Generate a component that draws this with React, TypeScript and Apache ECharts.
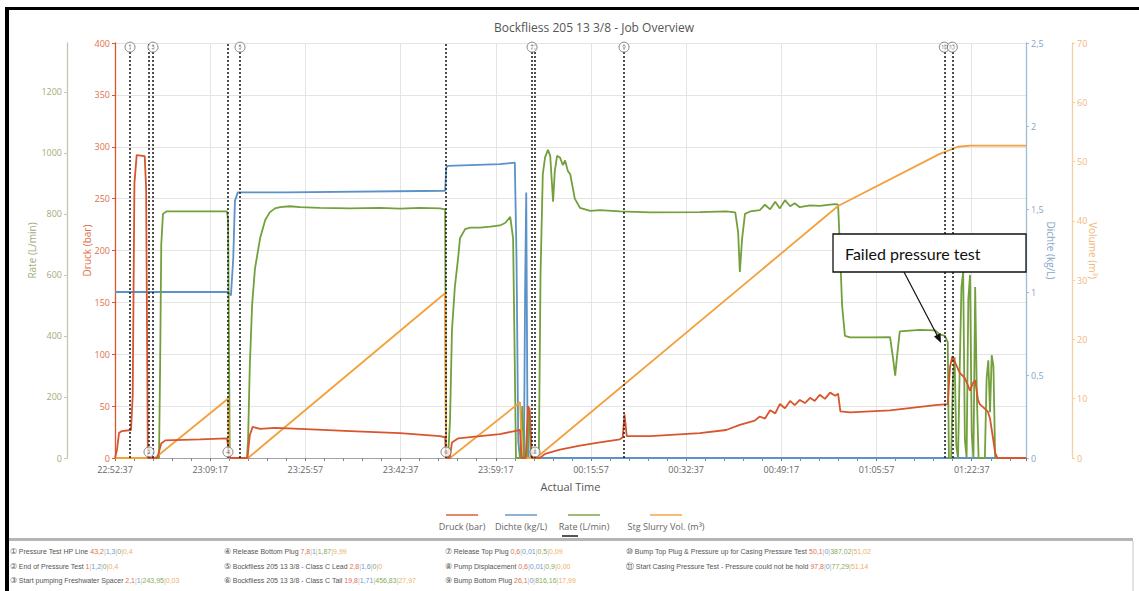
import React, { useEffect, useRef } from "react";
import * as echarts from "echarts";

type Pt = [number, number];

// x values: elapsed minutes since START_CLOCK
const START_CLOCK = "22:52:37";
const X_END_MIN = 159.5;
const X_STEP_SEC = 1000;

const druck: Pt[] = [
  [0, 0], [0.35, 8], [0.7, 24], [1.2, 26], [2.8, 27], [3.1, 60], [3.4, 265], [3.8, 292], [5.2, 291], [5.45, 260], [5.75, 0],
  [7.4, 0], [8.1, 14], [8.8, 17], [14.9, 18], [19.6, 19], [19.9, 8], [20.2, 0],
  [23.2, 0], [23.6, 22], [24.1, 30], [25.4, 28], [28.0, 29], [32.4, 28], [41.2, 26], [49.9, 24], [56.9, 21], [57.8, 20], [57.95, 0],
  [58.6, 0], [59.0, 15], [60.1, 19], [63.9, 21], [67.4, 23], [70.0, 26], [70.9, 27], [71.2, 0], [71.9, 0], [72.3, 50], [72.6, 47], [73.0, 0],
  [74.4, 0], [75.3, 4], [77.9, 8], [81.4, 12], [84.9, 15], [88.4, 18], [88.9, 20], [89.2, 42], [89.6, 21], [93.7, 21], [102.4, 24],
  [107.0, 27], [109.4, 32], [112.0, 36], [112.9, 40], [113.8, 38], [114.7, 46], [115.6, 43], [116.4, 52], [117.3, 48], [118.2, 55],
  [119.0, 51], [119.9, 56], [120.8, 53], [121.7, 58], [122.5, 55], [123.4, 61], [124.3, 57], [125.2, 63], [126.1, 60], [126.6, 62],
  [127.0, 45], [128.7, 44], [135.7, 46], [143.6, 51], [145.8, 52], [146.2, 88], [146.6, 98], [147.1, 92], [147.9, 82], [148.8, 77],
  [149.7, 65], [150.2, 72], [150.6, 75], [151.1, 56], [151.4, 52], [152.8, 45], [153.2, 38], [153.7, 20], [154.1, 5], [154.5, 0], [159.5, 0],
];

const dichte: Pt[] = [
  [0, 1.0], [19.8, 1.0], [20.3, 0.98], [20.7, 1.2], [21.0, 1.55], [21.5, 1.6], [30.0, 1.6], [57.8, 1.61],
  [58.0, 1.75], [58.3, 1.76], [67.4, 1.77], [70.0, 1.78], [70.3, 1.2], [70.6, 0.1], [70.9, 0], [71.6, 0],
  [71.8, 1.0], [72.0, 1.6], [72.2, 0.3], [72.4, 0], [159.5, 0],
];

const rate: Pt[] = [
  [0, 0], [7.7, 0], [7.9, 300], [8.1, 700], [8.4, 800], [9.0, 808], [14.9, 808], [19.6, 808], [19.8, 780], [20.1, 0],
  [23.1, 0], [23.3, 60], [23.6, 300], [24.0, 500], [24.5, 620], [25.4, 720], [26.3, 780], [27.1, 805], [28.0, 818], [28.9, 822],
  [30.6, 825], [32.4, 822], [35.9, 820], [41.2, 818], [46.4, 820], [49.9, 817], [53.4, 820], [56.9, 818], [57.8, 815], [57.95, 0],
  [58.3, 0], [58.65, 120], [59.0, 420], [59.5, 560], [60.1, 660], [60.4, 720], [61.3, 750], [62.2, 755], [63.9, 755], [65.7, 758],
  [67.4, 762], [68.3, 770], [69.2, 790], [69.7, 720], [70.0, 300], [70.2, 0], [70.9, 0], [71.3, 170], [71.6, 0], [72.1, 0], [72.5, 160], [72.8, 0],
  [74.2, 0], [74.5, 600], [74.9, 930], [75.3, 985], [75.8, 1010], [76.2, 990], [76.5, 900], [76.7, 840], [77.0, 940], [77.4, 990],
  [77.9, 985], [78.4, 960], [78.8, 975], [79.3, 940], [79.7, 930], [80.5, 850], [81.4, 820], [82.3, 815], [83.2, 810], [84.9, 812],
  [88.4, 808], [93.7, 805], [102.4, 806], [107.0, 808], [108.6, 805], [109.1, 740], [109.4, 610], [109.8, 720], [110.3, 800],
  [111.2, 808], [112.9, 812], [113.8, 830], [114.7, 815], [115.6, 840], [116.4, 818], [117.3, 845], [118.2, 825], [119.0, 835],
  [119.9, 822], [121.7, 828], [123.4, 826], [125.2, 830], [126.1, 832], [126.6, 830], [126.9, 700], [127.3, 500], [127.8, 400],
  [128.7, 395], [132.2, 395], [135.7, 396], [136.2, 330], [136.6, 270], [136.9, 330], [137.4, 415], [140.9, 420], [143.6, 418],
  [144.4, 405], [145.3, 400], [145.8, 380], [146.0, 0], [146.4, 0], [146.7, 260], [147.0, 330], [147.3, 40], [147.6, 0], [147.9, 300],
  [148.2, 560], [148.5, 610], [148.8, 60], [149.1, 0], [149.4, 520], [149.7, 600], [150.0, 80], [150.3, 0], [150.6, 560], [150.9, 200],
  [151.2, 0], [152.3, 0], [152.6, 260], [152.9, 320], [153.2, 150], [153.5, 337], [153.8, 300], [154.1, 0], [159.5, 0],
];

const slurryVol: Pt[] = [
  [0, 0], [7.0, 0], [19.78, 10.0], [19.96, 0], [23.29, 0], [57.78, 27.8], [57.95, 0], [58.65, 0], [70.92, 9.4], [71.27, 0],
  [73.72, 0], [126.6, 42.5], [144.4, 51.3], [147.6, 52.5], [149.7, 52.7], [159.5, 52.7],
];

const events = [
  { no: 1, min: 2.63, at: "top" },
  { no: 2, min: 5.95, at: "bottom" },
  { no: 3, min: 6.65, at: "top" },
  { no: 4, min: 19.78, at: "bottom" },
  { no: 5, min: 21.89, at: "top" },
  { no: 6, min: 57.95, at: "bottom" },
  { no: 7, min: 73.02, at: "top" },
  { no: 8, min: 73.54, at: "bottom" },
  { no: 9, min: 89.12, at: "top" },
  { no: 10, min: 145.2, at: "top" },
  { no: 11, min: 146.6, at: "top" },
];

const notes = [
  { no: 1, label: "Pressure Test HP Line", v: ["43,2", "1,3", "0", "0,4"] },
  { no: 2, label: "End of Pressure Test", v: ["1", "1,2", "0", "0,4"] },
  { no: 3, label: "Start pumping Freshwater Spacer", v: ["2,1", "1", "243,95", "0,03"] },
  { no: 4, label: "Release Bottom Plug", v: ["7,8", "1", "1,87", "9,99"] },
  { no: 5, label: "Bockfliess 205 13 3/8 - Class C Lead", v: ["2,8", "1,6", "0", "0"] },
  { no: 6, label: "Bockfliess 205 13 3/8 - Class C Tail", v: ["19,8", "1,71", "456,83", "27,97"] },
  { no: 7, label: "Release Top Plug", v: ["0,6", "0,01", "0,5", "0,09"] },
  { no: 8, label: "Pump Displacement", v: ["0,6", "0,01", "0,9", "0,00"] },
  { no: 9, label: "Bump Bottom Plug", v: ["26,1", "0", "816,16", "17,99"] },
  { no: 10, label: "Bump Top Plug & Pressure up for Casing Pressure Test", v: ["50,1", "0", "387,02", "51,02"] },
  { no: 11, label: "Start Casing Pressure Test - Pressure could not be hold", v: ["97,8", "0", "77,29", "51,14"] },
];

const legendItems = [
  { name: "Druck (bar)", color: "#d9552d", cx: 462 },
  { name: "Dichte (kg/L)", color: "#5b92c8", cx: 521 },
  { name: "Rate (L/min)", color: "#73a03c", cx: 584 },
  { name: "Stg Slurry Vol. (m³)", color: "#f4a03c", cx: 666 },
];

const FONT = "Open Sans";
const C = { druck: "#d9552d", dichte: "#5b92c8", rate: "#73a03c", vol: "#f4a03c" };

function toSec(s: string) {
  const [h, m, x] = s.split(":").map(Number);
  return h * 3600 + m * 60 + x;
}
const START_SEC = toSec(START_CLOCK);
function clock(v: number) {
  const t = (START_SEC + Math.round(v)) % 86400;
  const p = (n: number) => String(n).padStart(2, "0");
  return `${p(Math.floor(t / 3600))}:${p(Math.floor((t % 3600) / 60))}:${p(t % 60)}`;
}
const toXY = (arr: Pt[]) => arr.map(([m, v]) => [m * 60, v]);
const comma = (v: number) => String(v).replace(".", ",");

export default function App() {
  const ref = useRef<HTMLDivElement>(null);
  useEffect(() => {
    if (!ref.current) return;
    const chart = echarts.init(ref.current, undefined, { renderer: "svg" });

    const yAxisBase = (color: string, lineColor: string) => ({
      type: "value",
      nameLocation: "middle",
      nameMoveOverlap: false,
      nameTextStyle: { color, fontSize: 10, fontFamily: FONT },
      axisLine: { show: true, lineStyle: { color: lineColor, width: 1.3 } },
      axisTick: { show: true, length: 3, lineStyle: { color: lineColor } },
      axisLabel: { color, fontSize: 9, margin: 5, fontFamily: FONT, formatter: (v: number) => comma(v) },
      splitLine: { show: false },
    });

    const graphic: any[] = [];
    // outer frame
    graphic.push({ type: "rect", shape: { x: 5, y: 7, width: 1134, height: 3 }, style: { fill: "#000" } });
    graphic.push({ type: "rect", shape: { x: 5, y: 7, width: 4, height: 584 }, style: { fill: "#000" } });
    // legend
    legendItems.forEach((it) => {
      graphic.push({ type: "line", shape: { x1: it.cx - 16, y1: 515, x2: it.cx + 16, y2: 515 }, style: { stroke: it.color, lineWidth: 2, opacity: 0.7 } });
      graphic.push({ type: "text", x: it.cx, y: 526, style: { text: it.name, fill: "#666", fontSize: 9, fontFamily: FONT, align: "center", verticalAlign: "middle" } });
    });
    // lower panel divider
    graphic.push({ type: "rect", shape: { x: 9, y: 538, width: 1124, height: 3 }, style: { fill: "#b5b5b5" } });
    graphic.push({ type: "rect", shape: { x: 562, y: 535, width: 16, height: 2 }, style: { fill: "#555" } });
    graphic.push({ type: "line", shape: { x1: 1133, y1: 541, x2: 1133, y2: 591 }, style: { stroke: "#c8c8c8", lineWidth: 1 } });
    // notes
    const colX = [10, 224, 445, 626];
    const rowY = [551, 566, 580];
    notes.forEach((n) => {
      const col = n.no <= 3 ? 0 : n.no <= 6 ? 1 : n.no <= 9 ? 2 : 3;
      const row = col < 3 ? (n.no - 1) % 3 : n.no - 10;
      const circ = String.fromCharCode(0x2460 + n.no - 1);
      graphic.push({
        type: "text",
        x: colX[col],
        y: rowY[row],
        style: {
          text: `{n|${circ}} {l|${n.label}} {r|${n.v[0]}}{s||}{b|${n.v[1]}}{s||}{g|${n.v[2]}}{s||}{o|${n.v[3]}}`,
          fontSize: 7,
          fontFamily: FONT,
          verticalAlign: "middle",
          fill: "#555",
          rich: {
            n: { fontSize: 8, fill: "#555" },
            l: { fontSize: 7, fill: "#555" },
            r: { fontSize: 7, fill: "#e0704a" },
            b: { fontSize: 7, fill: "#6a9ad0" },
            g: { fontSize: 7, fill: "#8aab55" },
            o: { fontSize: 7, fill: "#f0b060" },
            s: { fontSize: 7, fill: "#bbb" },
          },
        },
      });
    });
    // annotation
    graphic.push({ type: "rect", shape: { x: 833, y: 234, width: 193, height: 38 }, style: { fill: "#fff", stroke: "#111", lineWidth: 1.3 }, z: 100 });
    graphic.push({ type: "text", x: 845, y: 253, style: { text: "Failed pressure test", fill: "#111", fontSize: 16, fontFamily: "Lato", verticalAlign: "middle" }, z: 101 });
    graphic.push({ type: "line", shape: { x1: 904, y1: 272, x2: 938, y2: 337 }, style: { stroke: "#111", lineWidth: 1.2 }, z: 100 });
    graphic.push({ type: "polygon", shape: { points: [[941, 343], [934, 336.5], [940.5, 333]] }, style: { fill: "#111" }, z: 100 });

    chart.setOption({
      animation: false,
      backgroundColor: "#fff",
      textStyle: { fontFamily: FONT },
      title: {
        text: "Bockfliess 205 13 3/8 - Job Overview",
        left: 489,
        top: 16,
        textStyle: { color: "#555", fontSize: 12, fontWeight: "normal", fontFamily: FONT },
      },
      grid: { left: 115, right: 113, top: 43, bottom: 133 },
      xAxis: {
        type: "value",
        min: 0,
        max: X_END_MIN * 60,
        interval: X_STEP_SEC,
        name: "Actual Time",
        nameLocation: "middle",
        nameMoveOverlap: false,
        nameGap: 23,
        nameTextStyle: { color: "#555", fontSize: 11, fontFamily: FONT },
        axisLine: { lineStyle: { color: "#9aa4ad" } },
        axisTick: { show: true, length: 3, lineStyle: { color: "#777" } },
        minorTick: { show: true, splitNumber: 5, length: 3, lineStyle: { color: "#888" } },
        splitLine: { show: true, lineStyle: { color: "#e4e4e4" } },
        axisLabel: { formatter: (v: number) => clock(v), color: "#666", fontSize: 9, margin: 7, showMaxLabel: false, fontFamily: FONT },
      },
      yAxis: [
        {
          ...yAxisBase("#e0704a", C.druck),
          name: "Druck (bar)",
          nameGap: 23,
          position: "left",
          min: 0,
          max: 400,
          interval: 50,
          splitLine: { show: true, lineStyle: { color: "#e4e4e4" } },
        },
        {
          ...yAxisBase("#a3ab7a", "#c2c8a8"),
          name: "Rate (L/min)",
          nameGap: 30,
          position: "left",
          offset: 48,
          min: 0,
          max: 1360,
          interval: 200,
          axisLabel: { color: "#a3ab7a", fontSize: 9, margin: 5, showMaxLabel: false, fontFamily: FONT, formatter: (v: number) => String(v) },
        },
        {
          ...yAxisBase("#86a6c8", "#9dbad6"),
          name: "Dichte (kg/L)",
          nameGap: 20,
          nameRotate: -90,
          position: "right",
          min: 0,
          max: 2.5,
          interval: 0.5,
        },
        {
          ...yAxisBase("#f2b77a", "#f6cf9f"),
          name: "Volume (m³)",
          nameGap: 16,
          nameRotate: -90,
          position: "right",
          offset: 46,
          min: 0,
          max: 70,
          interval: 10,
        },
      ],
      series: [
        { name: "Dichte (kg/L)", type: "line", yAxisIndex: 2, data: toXY(dichte), showSymbol: false, lineStyle: { color: C.dichte, width: 1.8 }, itemStyle: { color: C.dichte } },
        { name: "Rate (L/min)", type: "line", yAxisIndex: 1, data: toXY(rate), showSymbol: false, lineStyle: { color: C.rate, width: 1.8 }, itemStyle: { color: C.rate } },
        { name: "Stg Slurry Vol. (m³)", type: "line", yAxisIndex: 3, data: toXY(slurryVol), showSymbol: false, lineStyle: { color: C.vol, width: 1.8 }, itemStyle: { color: C.vol } },
        { name: "Druck (bar)", type: "line", yAxisIndex: 0, data: toXY(druck), showSymbol: false, lineStyle: { color: C.druck, width: 1.8 }, itemStyle: { color: C.druck } },
        {
          name: "events",
          type: "scatter",
          yAxisIndex: 0,
          z: 5,
          symbol: "circle",
          symbolSize: 10,
          itemStyle: { color: "#fff", borderColor: "#666", borderWidth: 1 },
          label: { show: true, position: "inside", formatter: "{b}", fontSize: 6, color: "#444" },
          data: events.map((e) => ({ name: String(e.no), value: [e.min * 60, e.at === "top" ? 396 : 5.8] })),
          markLine: {
            silent: true,
            symbol: ["none", "none"],
            label: { show: false },
            lineStyle: { color: "#222", type: [2, 2], width: 1.6 },
            data: events.map((e) => ({ xAxis: e.min * 60 })),
          },
        },
      ],
      graphic,
    });
    return () => chart.dispose();
  }, []);
  return <div ref={ref} style={{ position: "absolute", left: 0, top: 0, width: 1139, height: 591 }} />;
}
